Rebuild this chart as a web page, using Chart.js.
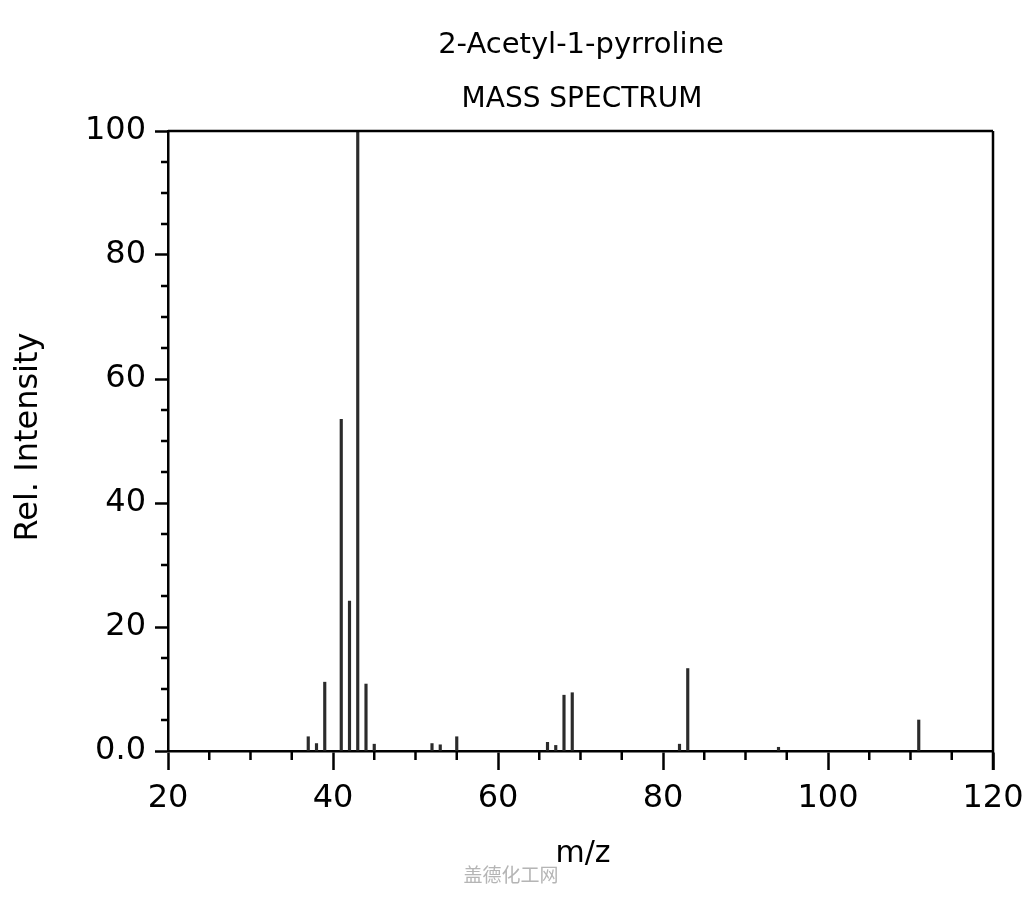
<!DOCTYPE html>
<html>
<head>
<meta charset="utf-8">
<script src="https://cdn.jsdelivr.net/npm/chart.js@4/dist/chart.umd.min.js"></script>
<style>
html,body{margin:0;padding:0;background:#fff;}
#wrap{width:1024px;height:900px;}
</style>
</head>
<body>
<div id="wrap"><canvas id="c" width="1024" height="900"></canvas></div>
<script>
// m/z values and relative intensities
const mzValues = [37, 38, 39, 41, 42, 43, 44, 45, 52, 53, 55, 66, 67, 68, 69, 82, 83, 94, 111];
const intensities = [2.3, 1.2, 11.1, 53.5, 24.2, 100, 10.8, 1.1, 1.2, 1.0, 2.3, 1.4, 0.9, 9.0, 9.4, 1.1, 13.3, 0.6, 5.0];
const xTickValues = [20, 40, 60, 80, 100, 120];
const yTickValues = [0, 20, 40, 60, 80, 100];
const titleLines = ['2-Acetyl-1-pyrroline', 'MASS SPECTRUM'];
const xTitle = 'm/z';
const yTitle = 'Rel. Intensity';
const watermark = '盖德化工网';

const FONT = "'DejaVu Sans', sans-serif";

const decor = {
  id: 'decor',
  afterDraw(chart) {
    const ctx = chart.ctx;
    const a = chart.chartArea;
    const xs = chart.scales.x, ys = chart.scales.y;
    ctx.save();
    ctx.strokeStyle = '#000';
    ctx.lineWidth = 2.5;
    // top and right frame
    ctx.beginPath();
    ctx.moveTo(a.left, a.top); ctx.lineTo(a.right, a.top);
    ctx.moveTo(a.right, a.top); ctx.lineTo(a.right, a.bottom + 19);
    ctx.stroke();
    // minor ticks
    ctx.beginPath();
    for (let v = 0; v <= 100; v += 5) {
      if (v % 20 === 0) continue;
      const y = ys.getPixelForValue(v);
      ctx.moveTo(a.left - 7, y); ctx.lineTo(a.left, y);
    }
    for (let v = 20; v <= 120; v += 5) {
      if (v % 20 === 0) continue;
      const x = xs.getPixelForValue(v);
      ctx.moveTo(x, a.bottom); ctx.lineTo(x, a.bottom + 9);
    }
    ctx.stroke();
    // titles
    ctx.fillStyle = '#000';
    ctx.textAlign = 'center';
    ctx.textBaseline = 'middle';
    ctx.font = '29px ' + FONT;
    ctx.fillText(titleLines[0], 581, 45);
    ctx.font = '28px ' + FONT;
    ctx.fillText(titleLines[1], 582, 100);
    // x title
    ctx.font = '30px ' + FONT;
    ctx.fillText(xTitle, 583, 854);
    // y title
    ctx.save();
    ctx.translate(29, 437);
    ctx.rotate(-Math.PI / 2);
    ctx.font = '32px ' + FONT;
    ctx.fillText(yTitle, 0, 0);
    ctx.restore();
    // watermark
    ctx.fillStyle = '#b5b5b5';
    ctx.font = "19px 'Noto Sans CJK SC', sans-serif";
    ctx.fillText(watermark, 511, 875);
    ctx.restore();
  }
};

new Chart(document.getElementById('c'), {
  type: 'bar',
  data: {
    datasets: [{
      data: mzValues.map((m, i) => ({x: m, y: intensities[i]})),
      backgroundColor: '#2b2b2b',
      borderWidth: 0,
      barThickness: 2.5
    }]
  },
  options: {
    responsive: false,
    animation: false,
    devicePixelRatio: 1,
    layout: {padding: {top: 131, right: 31, left: 0, bottom: 0}},
    plugins: {legend: {display: false}, tooltip: {enabled: false}, title: {display: false}},
    scales: {
      x: {
        type: 'linear',
        min: 20, max: 120,
        offset: false,
        afterBuildTicks: s => { s.ticks = xTickValues.map(v => ({value: v})); },
        afterFit: s => { s.height = 149; s.paddingLeft = 0; s.paddingRight = 0; },
        ticks: {
          color: '#000',
          font: {family: FONT, size: 32},
          padding: 9,
          maxRotation: 0,
          autoSkip: false
        },
        grid: {offset: false, drawOnChartArea: false, drawTicks: true, tickLength: 19, tickWidth: 2.5, tickColor: '#000'},
        border: {display: true, color: '#000', width: 2.5}
      },
      y: {
        type: 'linear',
        min: 0, max: 100,
        afterBuildTicks: s => { s.ticks = yTickValues.map(v => ({value: v})); },
        afterFit: s => { s.width = 168; s.paddingTop = 0; s.paddingBottom = 0; },
        ticks: {
          color: '#000',
          font: {family: FONT, size: 32},
          padding: 9,
          callback: v => (v === 0 ? '0.0' : String(v))
        },
        grid: {drawOnChartArea: false, drawTicks: true, tickLength: 13, tickWidth: 2.5, tickColor: '#000'},
        border: {display: true, color: '#000', width: 2.5}
      }
    }
  },
  plugins: [decor]
});
</script>
</body>
</html>
